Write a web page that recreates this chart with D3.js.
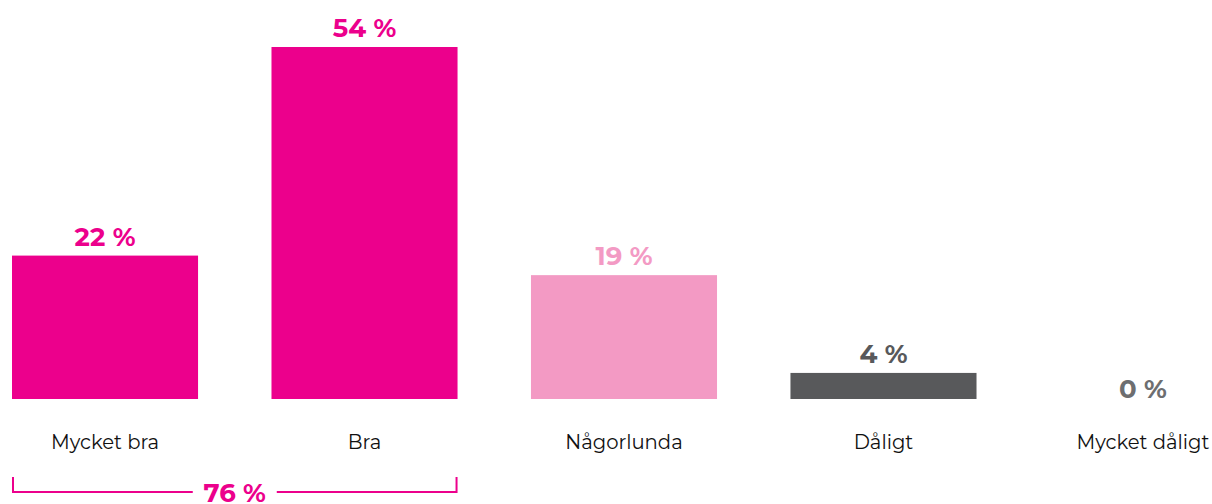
<!DOCTYPE html>
<meta charset="utf-8">
<head>
	<title>Betyg</title>
</head>
<style>
	body { margin: 0; background: #fff; }
	text { font-family: "Montserrat", "Inter", "Noto Sans", sans-serif; }
</style>
<body>
<div id="wrapper"></div>
<script src="https://d3js.org/d3.v7.min.js"></script>
<script>
var categories = ["Mycket bra", "Bra", "Någorlunda", "Dåligt", "Mycket dåligt"];
var values = [22, 54, 19, 4, 0];
var valueLabels = ["22 %", "54 %", "19 %", "4 %", "0 %"];
var barColors = ["#ec008c", "#ec008c", "#f39ac4", "#58595b", "#58595b"];
var textColors = ["#ec008c", "#ec008c", "#f39ac4", "#58595b", "#6d6e70"];
var groupLabel = "76 %";
var groupCats = ["Mycket bra", "Bra"];

var width = 1212, height = 504;
var svg = d3.select("#wrapper").append("svg")
	.attr("width", width).attr("height", height);

var x = d3.scaleBand().domain(categories).range([12, 1236]).paddingInner(0.283).paddingOuter(0);
var y = d3.scaleLinear().domain([0, 54]).range([399, 47]);

svg.selectAll(".bar")
	.data(values)
	.enter().append("rect")
	.attr("class", "bar")
	.attr("x", function(d, i) { return x(categories[i]); })
	.attr("width", x.bandwidth())
	.attr("y", function(d) { return y(d); })
	.attr("height", function(d) { return y(0) - y(d); })
	.attr("fill", function(d, i) { return barColors[i]; });

svg.selectAll(".val")
	.data(values)
	.enter().append("text")
	.attr("class", "val")
	.attr("x", function(d, i) { return x(categories[i]) + x.bandwidth() / 2; })
	.attr("y", function(d) { return d === 0 ? y(0) - 1 : y(d) - 10; })
	.attr("text-anchor", "middle")
	.style("font-size", "26px")
	.style("font-weight", "bold")
	.attr("fill", function(d, i) { return textColors[i]; })
	.text(function(d, i) { return valueLabels[i]; });

svg.selectAll(".cat")
	.data(categories)
	.enter().append("text")
	.attr("class", "cat")
	.attr("x", function(d) { return x(d) + x.bandwidth() / 2; })
	.attr("y", 449)
	.attr("text-anchor", "middle")
	.style("font-size", "19.6px")
	.attr("fill", "#111")
	.text(function(d) { return d; });

// bracket under the first two bars
var bx0 = x(groupCats[0]) + 1, bx1 = x(groupCats[1]) + x.bandwidth() - 1;
var by = 492, mid = (bx0 + bx1) / 2;
svg.append("path")
	.attr("d", "M" + bx0 + "," + (by - 15) + "V" + by + "H" + (mid - 42))
	.attr("fill", "none").attr("stroke", "#ec008c").attr("stroke-width", 2);
svg.append("path")
	.attr("d", "M" + (mid + 42) + "," + by + "H" + bx1 + "V" + (by - 15))
	.attr("fill", "none").attr("stroke", "#ec008c").attr("stroke-width", 2);
svg.append("text")
	.attr("x", mid).attr("y", 502)
	.attr("text-anchor", "middle")
	.style("font-size", "26px").style("font-weight", "bold")
	.attr("fill", "#ec008c")
	.text(groupLabel);
</script>
</body>
